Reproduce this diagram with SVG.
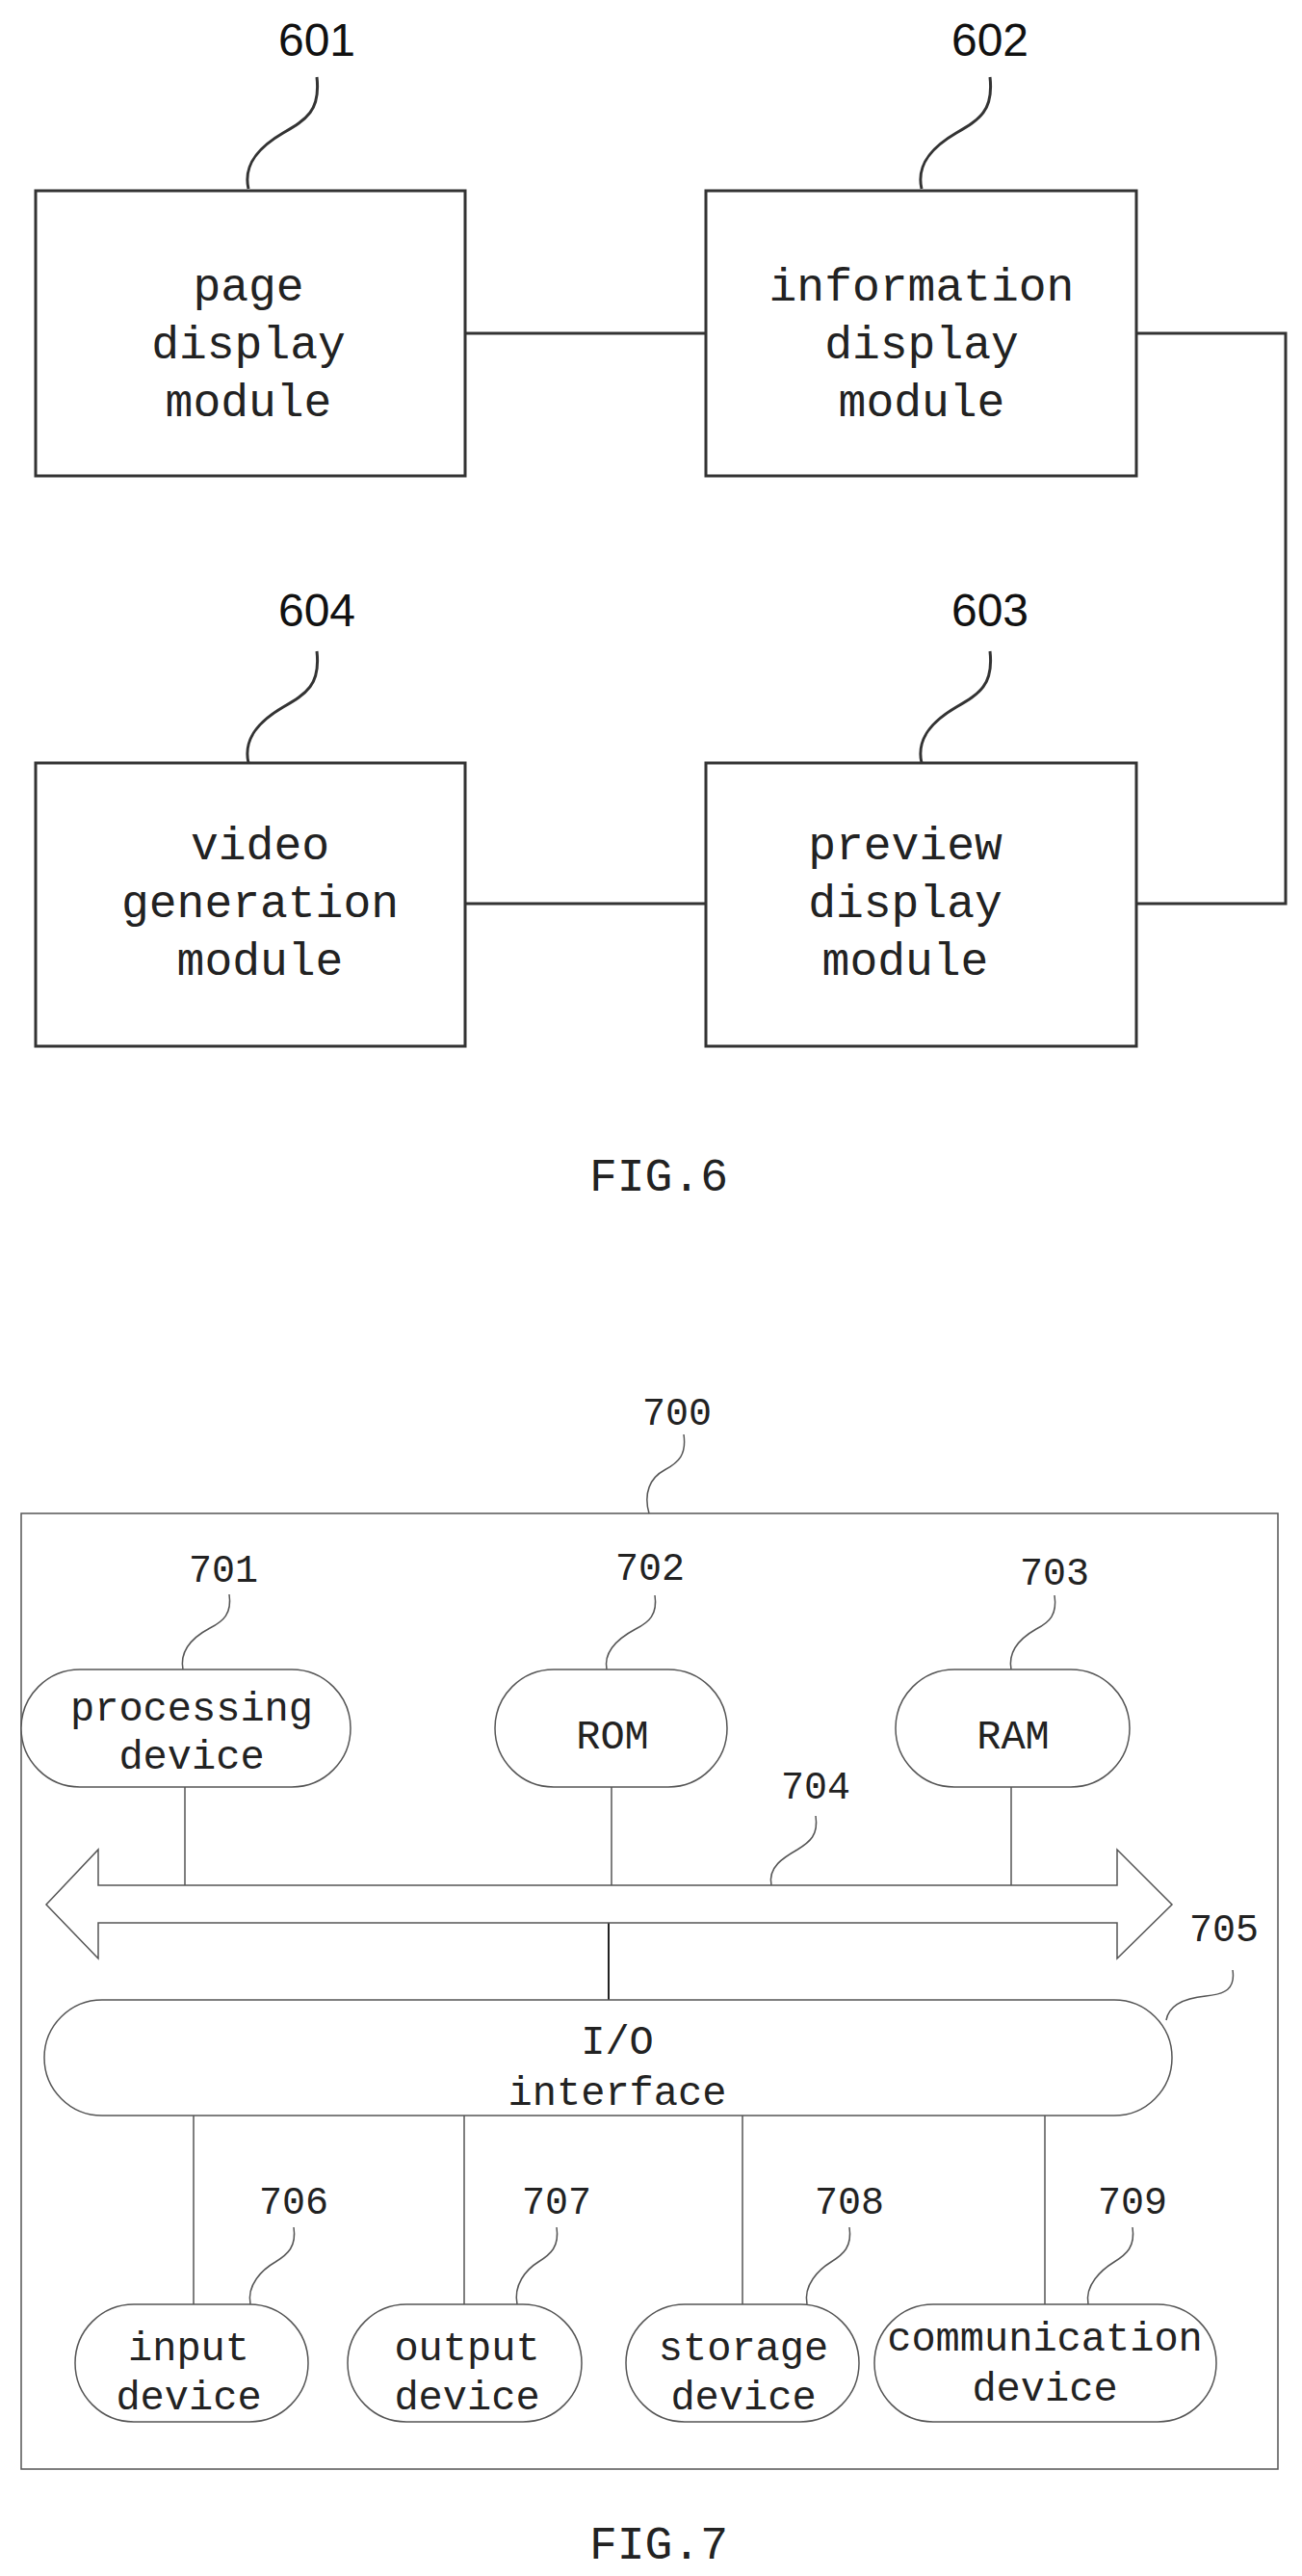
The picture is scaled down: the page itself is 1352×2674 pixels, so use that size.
<svg xmlns="http://www.w3.org/2000/svg" width="1352" height="2674" viewBox="0 0 1352 2674">
<style>
.b6{fill:#fff;stroke:#333;stroke-width:3}
.l6{fill:none;stroke:#333;stroke-width:3}
.b7{fill:#fff;stroke:#555;stroke-width:1.5}
.l7{fill:none;stroke:#555;stroke-width:1.5}
.n6{font-family:"Liberation Sans",Arial,sans-serif;font-size:48px;text-anchor:middle;fill:#111}
.t6{font-family:"Liberation Mono","Courier New",monospace;font-size:48px;text-anchor:middle;fill:#222}
.t7{font-family:"Liberation Mono","Courier New",monospace;font-size:42px;text-anchor:middle;fill:#222}
.n7{font-family:"Liberation Mono","Courier New",monospace;font-size:40px;text-anchor:middle;fill:#222}
</style>
<rect width="1352" height="2674" fill="#fff"/>
<g id="connectors6">
<path class="l6" d="M483,346H733"/>
<path class="l6" d="M1180,346H1335V938H1180"/>
<path class="l6" d="M483,938H733"/>
<path class="l6" d="M329,80C333,115 318,124 294,138C270,152 252,170 258,196"/>
<path class="l6" d="M1028,80C1032,115 1017,124 993,138C969,152 951,170 957,196"/>
<path class="l6" d="M329,676C333,711 318,720 294,734C270,748 252,766 258,792"/>
<path class="l6" d="M1028,676C1032,711 1017,720 993,734C969,748 951,766 957,792"/>
</g>
<g id="n601"><rect class="b6" x="37" y="198" width="446" height="296"/><text class="t6" x="258" y="312">page</text><text class="t6" x="258" y="372">display</text><text class="t6" x="258" y="432">module</text><text class="n6" x="329" y="58">601</text></g>
<g id="n602"><rect class="b6" x="733" y="198" width="447" height="296"/><text class="t6" x="957" y="312">information</text><text class="t6" x="957" y="372">display</text><text class="t6" x="957" y="432">module</text><text class="n6" x="1028" y="58">602</text></g>
<g id="n604"><rect class="b6" x="37" y="792" width="446" height="294"/><text class="t6" x="270" y="892">video</text><text class="t6" x="270" y="952">generation</text><text class="t6" x="270" y="1012">module</text><text class="n6" x="329" y="650">604</text></g>
<g id="n603"><rect class="b6" x="733" y="792" width="447" height="294"/><text class="t6" x="940" y="892">preview</text><text class="t6" x="940" y="952">display</text><text class="t6" x="940" y="1012">module</text><text class="n6" x="1028" y="650">603</text></g>
<text class="t6" x="684" y="1236">FIG.6</text>

<g id="n700"><rect class="b7" x="22" y="1571" width="1305" height="992"/><text class="n7" x="703" y="1479">700</text></g>
<g id="connectors7">
<path class="l7" d="M710,1489C713,1510 705,1518 690,1526C675,1534 668,1550 674,1571"/>
<path class="l7" d="M238,1655C241,1675 232,1683 218,1690C203,1698 186,1712 190,1733"/>
<path class="l7" d="M680,1656C683,1676 674,1684 660,1691C645,1699 626,1712 630,1733"/>
<path class="l7" d="M1095,1656C1098,1676 1090,1684 1076,1691C1062,1699 1046,1712 1050,1733"/>
<path class="l7" d="M847,1885C850,1905 841,1912 828,1920C814,1928 797,1938 801,1957"/>
<path class="l7" d="M1280,2045C1283,2065 1272,2070 1252,2072C1232,2074 1214,2080 1211,2097"/>
<path class="l7" d="M305,2312C308,2332 299,2340 286,2348C272,2356 256,2372 260,2392"/>
<path class="l7" d="M578,2312C581,2332 572,2340 559,2348C546,2356 533,2372 537,2392"/>
<path class="l7" d="M882,2312C885,2332 876,2340 863,2348C850,2356 834,2372 838,2392"/>
<path class="l7" d="M1176,2312C1179,2332 1170,2340 1157,2348C1144,2356 1126,2372 1130,2392"/>
<path class="l7" d="M192,1855V1957M635,1855V1957M1050,1855V1957"/>
<path class="l7" d="M632,1996V2076" style="stroke:#222;stroke-width:2"/>
<path class="l7" d="M201,2196V2392M482,2196V2392M771,2196V2392M1085,2196V2392"/>
</g>
<g id="n704"><polygon class="b7" points="48,1977 102,1920 102,1957 1160,1957 1160,1920 1217,1977 1160,2033 1160,1996 102,1996 102,2033"/><text class="n7" x="847" y="1867">704</text></g>
<g id="n701"><rect class="b7" x="22" y="1733" width="342" height="122" rx="61"/><text class="t7" x="199" y="1786">processing</text><text class="t7" x="199" y="1836">device</text><text class="n7" x="232" y="1642">701</text></g>
<g id="n702"><rect class="b7" x="514" y="1733" width="241" height="122" rx="61"/><text class="t7" x="636" y="1815">ROM</text><text class="n7" x="675" y="1640">702</text></g>
<g id="n703"><rect class="b7" x="930" y="1733" width="243" height="122" rx="61"/><text class="t7" x="1052" y="1815">RAM</text><text class="n7" x="1095" y="1645">703</text></g>
<g id="n705"><rect class="b7" x="46" y="2076" width="1171" height="120" rx="60"/><text class="t7" x="641" y="2132">I/O</text><text class="t7" x="641" y="2185">interface</text><text class="n7" x="1271" y="2015">705</text></g>
<g id="n706"><rect class="b7" x="78" y="2392" width="242" height="122" rx="61"/><text class="t7" x="196" y="2450">input</text><text class="t7" x="196" y="2501">device</text><text class="n7" x="305" y="2298">706</text></g>
<g id="n707"><rect class="b7" x="361" y="2392" width="243" height="122" rx="61"/><text class="t7" x="485" y="2450">output</text><text class="t7" x="485" y="2501">device</text><text class="n7" x="578" y="2298">707</text></g>
<g id="n708"><rect class="b7" x="650" y="2392" width="242" height="122" rx="61"/><text class="t7" x="772" y="2450">storage</text><text class="t7" x="772" y="2501">device</text><text class="n7" x="882" y="2298">708</text></g>
<g id="n709"><rect class="b7" x="908" y="2392" width="355" height="122" rx="61"/><text class="t7" x="1085" y="2440">communication</text><text class="t7" x="1085" y="2492">device</text><text class="n7" x="1176" y="2298">709</text></g>
<text class="t6" x="684" y="2656">FIG.7</text>
</svg>
